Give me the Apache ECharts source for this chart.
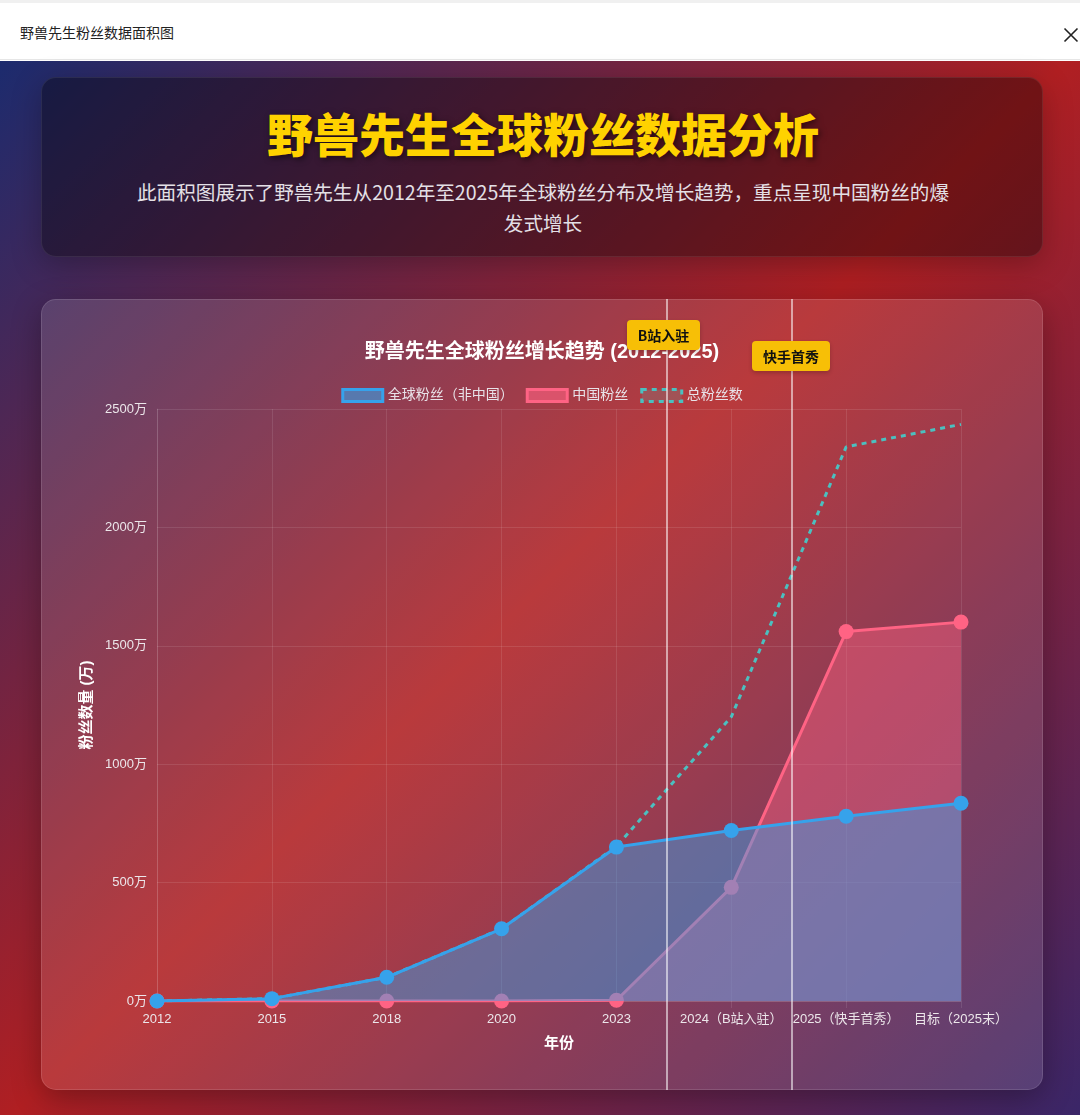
<!DOCTYPE html>
<html lang="zh-CN">
<head>
<meta charset="UTF-8">
<title>野兽先生粉丝数据面积图</title>
<script src="https://cdn.jsdelivr.net/npm/echarts@6/dist/echarts.min.js"></script>
<style>
  html, body { margin: 0; padding: 0; }
  body {
    width: 1080px; height: 1115px; overflow: hidden; position: relative;
    font-family: "Noto Sans CJK SC", "Noto Sans", sans-serif;
    background: #fff;
  }
  #topbar {
    position: absolute; left: 0; top: 0; width: 1080px; height: 60px;
    background: #fff; border-top: 3px solid #f0f0f0; box-sizing: border-box;
    border-bottom: 1px solid #e6e6e6;
  }
  #topbar .t { position: absolute; left: 20px; top: 19px; font-size: 14px; color: #222; line-height: 20px; }
  #topbar svg { position: absolute; left: 1063px; top: 24px; }
  #page {
    position: absolute; left: 0; top: 61px; width: 1080px; height: 1054px;
    background: linear-gradient(135deg, #1c2b6e 0%, #b01f22 50%, #3a2668 100%);
  }
  #head {
    position: absolute; left: 41px; top: 77px; width: 1002px; height: 180px;
    box-sizing: border-box; border-radius: 15px;
    background: rgba(0,0,0,0.36); border: 1px solid rgba(255,255,255,0.08);
    box-shadow: 0 8px 30px rgba(0,0,0,0.25);
  }
  .h1 {
    position: absolute; left: 0; width: 1002px; top: 27px; text-align: center;
    font-size: 46px; line-height: 54px; font-weight: 900; color: #ffd200;
    text-shadow: 2px 2px 6px rgba(0,0,0,0.55);
  }
  .sub {
    position: absolute; left: 71px; width: 860px; top: 98px; text-align: center;
    font-size: 19.6px; line-height: 31px; color: #e4e0e6;
  }
  #card {
    position: absolute; left: 41px; top: 299px; width: 1002px; height: 791px;
    box-sizing: border-box; border-radius: 15px;
    background: rgba(255,255,255,0.12); border: 1px solid rgba(255,255,255,0.12);
    box-shadow: 0 8px 30px rgba(0,0,0,0.3);
  }
  #chart { position: absolute; left: 41px; top: 299px; width: 1002px; height: 791px; }
  .vline { position: absolute; top: 299px; height: 791px; width: 2px; background: rgba(255,255,255,0.55); }
  .badge {
    position: absolute; background: #f7bf06; color: #111; font-weight: 700;
    font-size: 14px; border-radius: 4px; text-align: center; box-sizing: border-box;
    box-shadow: 0 2px 4px rgba(0,0,0,0.2);
  }
</style>
</head>
<body>
<div id="topbar">
  <div class="t">野兽先生粉丝数据面积图</div>
  <svg width="16" height="16" viewBox="0 0 16 16"><path d="M1.5 1.5 L14.5 14.5 M14.5 1.5 L1.5 14.5" stroke="#222" stroke-width="1.6" fill="none"/></svg>
</div>
<div id="page"></div>
<div id="head">
  <div class="h1">野兽先生全球粉丝数据分析</div>
  <div class="sub">此面积图展示了野兽先生从2012年至2025年全球粉丝分布及增长趋势，重点呈现中国粉丝的爆<br>发式增长</div>
</div>
<div id="card"></div>
<div id="chart"></div>
<div class="vline" style="left:666px"></div>
<div class="vline" style="left:791px"></div>
<div class="badge" style="left:627px; top:320px; width:73px; height:30px; line-height:30px;">B站入驻</div>
<div class="badge" style="left:752px; top:341px; width:78px; height:30px; line-height:30px;">快手首秀</div>
<script>
const categories = ['2012', '2015', '2018', '2020', '2023', '2024（B站入驻）', '2025（快手首秀）', '目标（2025末）'];
const globalFans = [0, 10, 100, 305, 650, 720, 780, 835];
const chinaFans = [0, 0, 0, 0, 3, 480, 1560, 1600];
const totalFans = [0, 10, 100, 305, 653, 1200, 2340, 2435];
const seriesNames = ['全球粉丝（非中国）', '中国粉丝', '总粉丝数'];
const chartTitle = '野兽先生全球粉丝增长趋势 (2012-2025)';
const yAxisName = '粉丝数量 (万)';
const xAxisName = '年份';
const yMin = 0, yMax = 2500, yStep = 500;

const FONT = "'Liberation Sans', 'Noto Sans CJK SC', sans-serif";
const chart = echarts.init(document.getElementById('chart'), null, { renderer: 'canvas' });
const gridColor = 'rgba(255,255,255,0.1)';
chart.setOption({
  animation: false,
  backgroundColor: 'transparent',
  title: {
    text: chartTitle, left: 'center', top: 38,
    textStyle: { color: '#ffffff', fontSize: 20, fontWeight: 'bold', fontFamily: FONT }
  },
  legend: {
    top: 84, left: 'center', icon: 'rect', itemWidth: 40, itemHeight: 12, itemGap: 12,
    textStyle: { color: '#e8e2e8', fontSize: 14, fontFamily: FONT },
    data: [
      { name: seriesNames[0], itemStyle: { color: 'rgba(54,162,235,0.6)', borderColor: '#36a2eb', borderWidth: 3 } },
      { name: seriesNames[1], itemStyle: { color: 'rgba(255,99,132,0.6)', borderColor: '#ff6384', borderWidth: 3 } },
      { name: seriesNames[2], itemStyle: { color: 'rgba(128,128,128,0.35)', borderColor: '#4bc0c0', borderWidth: 3, borderType: [5, 5] } }
    ]
  },
  grid: { left: 116, right: 82, top: 110, bottom: 89, containLabel: false },
  xAxis: {
    type: 'category', data: categories, boundaryGap: false,
    name: xAxisName, nameLocation: 'middle', nameGap: 35,
    nameTextStyle: { color: '#ffffff', fontSize: 15, fontWeight: 'bold', fontFamily: FONT },
    axisLine: { show: true, lineStyle: { color: gridColor } },
    axisTick: { show: true, length: 7, lineStyle: { color: gridColor } },
    axisLabel: { color: '#ece6ea', fontSize: 13, margin: 12, fontFamily: FONT, interval: 0 },
    splitLine: { show: true, lineStyle: { color: gridColor } }
  },
  yAxis: {
    type: 'value', min: yMin, max: yMax, interval: yStep,
    name: yAxisName, nameLocation: 'middle', nameGap: 62, nameRotate: 90,
    nameTextStyle: { color: '#ffffff', fontSize: 15, fontWeight: 'bold', fontFamily: FONT },
    axisLine: { show: true, lineStyle: { color: gridColor } },
    axisTick: { show: false },
    axisLabel: { color: '#ece6ea', fontSize: 13, margin: 10, fontFamily: FONT, formatter: function (v) { return String(v) + '万'; } },
    splitLine: { show: true, lineStyle: { color: gridColor } }
  },
  series: [
    {
      name: seriesNames[0], type: 'line', data: globalFans, z: 5,
      symbol: 'circle', symbolSize: 15, showSymbol: true,
      itemStyle: { color: '#36a2eb' },
      lineStyle: { color: '#36a2eb', width: 3 },
      areaStyle: { color: 'rgba(54,162,235,0.66)', origin: 'start' }
    },
    {
      name: seriesNames[1], type: 'line', data: chinaFans, z: 3,
      symbol: 'circle', symbolSize: 15, showSymbol: true,
      itemStyle: { color: '#ff6384' },
      lineStyle: { color: '#ff6384', width: 3 },
      areaStyle: { color: 'rgba(255,99,132,0.6)', origin: 'start' }
    },
    {
      name: seriesNames[2], type: 'line', data: totalFans, z: 2,
      symbol: 'none', showSymbol: false,
      itemStyle: { color: '#4bc0c0' },
      lineStyle: { color: '#4bc0c0', width: 3, type: [5, 5] }
    }
  ]
});
</script>
</body>
</html>
